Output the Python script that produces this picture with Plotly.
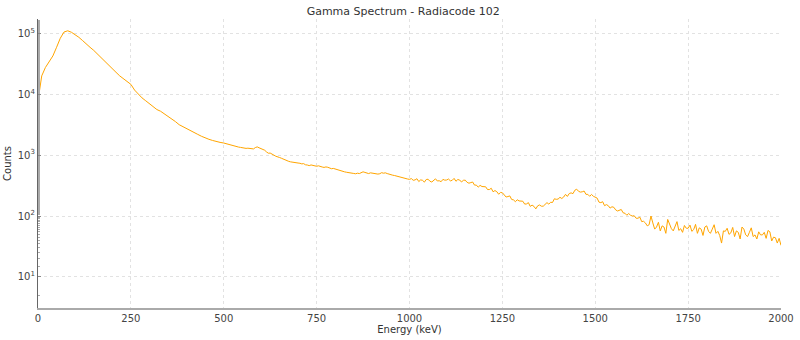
import plotly.graph_objects as go

# Energy channels (keV): 10 keV bins below 500 keV, 5 keV bins above
energy_low = list(range(0, 500, 10))
energy_high = list(range(500, 2001, 5))
energy_kev = energy_low + energy_high

counts_low = [
    7800, 20000, 27500, 34000, 42500, 59000, 83000, 105000, 110000, 104000,   # 0-90
    96000, 86000, 76000, 68000, 59000, 52500, 46000, 40000, 34500, 30000,     # 100-190
    26300, 22900, 20000, 17800, 16200, 14500, 11700, 10000, 8700, 7800,       # 200-290
    6900, 6200, 5600, 5250, 4800, 4350, 3980, 3550, 3160, 2920,               # 300-390
    2700, 2500, 2350, 2190, 2040, 1900, 1820, 1740, 1660, 1620,               # 400-490
]

counts_high = [
    1580, 1545, 1515, 1490, 1465, 1430, 1415, 1380, 1355, 1340,   # 500-545
    1320, 1305, 1290, 1300, 1285, 1300, 1265, 1330, 1365, 1320,   # 550-595
    1290, 1250, 1205, 1130, 1075, 1080, 1050, 1000, 960, 945,     # 600-645
    915, 890, 862, 830, 800, 790, 775, 772, 755, 760,             # 650-695
    742, 735, 718, 725, 694, 688, 672, 690, 678, 662,             # 700-745
    656, 668, 645, 638, 628, 640, 632, 615, 598, 605,             # 750-795
    590, 582, 568, 555, 538, 532, 524, 518, 512, 520,             # 800-845
    500, 494, 505, 498, 515, 532, 520, 505, 498, 512,             # 850-895
    508, 492, 500, 488, 495, 515, 505, 512, 498, 485,             # 900-945
    480, 468, 462, 452, 448, 435, 428, 420, 410, 405,             # 950-995
    400, 412, 386, 392, 410, 368, 392, 386, 360, 398,             # 1000-1045
    402, 372, 362, 388, 408, 376, 380, 366, 400, 388,             # 1050-1095
    390, 405, 378, 386, 415, 372, 398, 390, 362, 386,             # 1100-1145
    388, 358, 346, 354, 362, 322, 322, 298, 319, 305,             # 1150-1195
    300, 302, 272, 272, 286, 250, 262, 251, 228, 244,             # 1200-1245
    241, 218, 205, 209, 214, 187, 184, 172, 185, 177,             # 1250-1295
    175, 175, 157, 158, 166, 144, 151, 144, 131, 147,             # 1300-1345
    152, 145, 145, 155, 166, 157, 168, 167, 192, 188,             # 1350-1395
    190, 203, 194, 205, 227, 210, 234, 240, 233, 265,             # 1400-1445
    276, 255, 247, 250, 257, 227, 227, 211, 226, 211,             # 1450-1495
    204, 197, 169, 166, 172, 148, 154, 148, 135, 142,             # 1500-1545
    139, 126, 121, 124, 128, 113, 111, 103, 110, 103,             # 1550-1595
    100, 101, 92, 92, 96, 81, 82, 77, 69, 72,                     # 1600-1645
    100, 77, 61, 66, 79, 57, 69, 66, 52, 88,                      # 1650-1695
    75, 62, 57, 67, 81, 58, 62, 54, 70, 63,                       # 1700-1745
    63, 71, 56, 60, 73, 52, 64, 61, 48, 66,                       # 1750-1795
    69, 56, 52, 61, 72, 52, 56, 48, 36, 57,                       # 1800-1845
    56, 63, 50, 53, 65, 46, 57, 54, 42, 66,                       # 1850-1895
    61, 49, 46, 54, 64, 46, 49, 42, 55, 49,                       # 1900-1945
    49, 54, 43, 58, 55, 39, 45, 44, 36, 43,                       # 1950-1995
    33,                                                           # 2000
]
counts = counts_low + counts_high

title_text = "Gamma Spectrum - Radiacode 102"
x_title = "Energy (keV)"
y_title = "Counts"
x_ticks = [0, 250, 500, 750, 1000, 1250, 1500, 1750, 2000]
y_ticks = [10, 100, 1000, 10000, 100000]
y_ticktext = ["10<sup>1</sup>", "10<sup>2</sup>", "10<sup>3</sup>", "10<sup>4</sup>", "10<sup>5</sup>"]

font_family = "DejaVu Sans, Liberation Sans, sans-serif"

fig = go.Figure()
fig.add_trace(go.Scatter(
    x=energy_kev, y=counts, mode="lines",
    line=dict(color="#FFA500", width=1),
    hoverinfo="x+y", showlegend=False,
))

fig.update_layout(
    width=800, height=340,
    margin=dict(l=38, r=19, t=19, b=32),
    paper_bgcolor="white", plot_bgcolor="white",
    font=dict(family=font_family, size=10, color="#333333"),
    title=dict(text=title_text, x=0.504, xref="container", xanchor="center",
               y=0.967, yref="container", yanchor="middle",
               font=dict(size=11, color="#333333")),
)

fig.update_xaxes(
    range=[0, 2000], tickvals=x_ticks, automargin=False,
    showgrid=True, gridcolor="#e2e2e2", griddash="dot", gridwidth=0.8,
    showline=True, linecolor="#aaaaaa", linewidth=2,
    ticks="", zeroline=False,
    title=dict(text=x_title, standoff=2, font=dict(size=10)),
    tickfont=dict(size=10, color="#444444"),
)
fig.update_yaxes(
    type="log", range=[0.49, 5.235], tickvals=y_ticks, ticktext=y_ticktext,
    automargin=False,
    showgrid=True, gridcolor="#e2e2e2", griddash="dot", gridwidth=0.8,
    showline=True, linecolor="#666666", linewidth=1.2,
    ticks="inside", ticklen=3, tickcolor="#888888",
    minor=dict(ticks="inside", ticklen=2, tickcolor="#aaaaaa", showgrid=False),
    zeroline=False,
    title=dict(text=y_title, standoff=4, font=dict(size=10)),
    tickfont=dict(size=10, color="#444444"),
)

fig.write_html("out.html")
